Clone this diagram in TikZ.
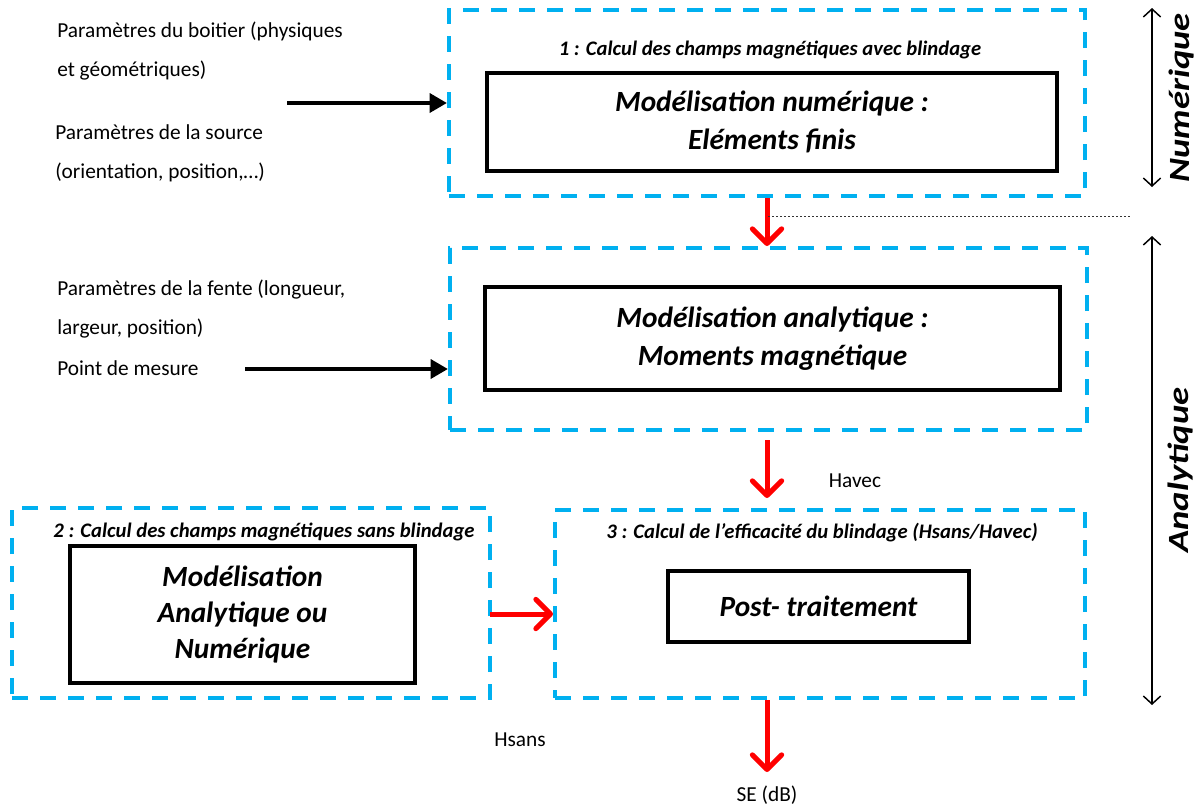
\documentclass[tikz,border=0pt]{standalone}
\usepackage{fontspec}
\setmainfont{Carlito}
\usetikzlibrary{arrows.meta,calc}
\definecolor{dashblue}{HTML}{00B0F0}
\begin{document}
\begin{tikzpicture}[x=0.75pt,y=-0.75pt,
  dbox/.style={draw=dashblue, line width=3pt, dash pattern=on 12pt off 9pt, inner sep=0},
  sbox/.style={draw=black, line width=3pt, inner sep=0, align=center, font=\fontsize{22}{28}\selectfont\bfseries\itshape},
  ttl/.style={font=\fontsize{15.5}{18}\selectfont\bfseries\itshape, inner sep=0},
  lbl/.style={font=\fontsize{16}{29}\selectfont, inner sep=0, align=left, anchor=west},
  plain/.style={font=\fontsize{16}{18}\selectfont, inner sep=0},
  redarr/.style={draw=red, line width=3.75pt, -{Straight Barb[length=11pt,width=22pt,round]}},
  blkarr/.style={draw=black, line width=3.5pt, -{Triangle[length=13pt,width=14pt]}},
  dblarr/.style={draw=black, line width=1.1pt, {Straight Barb[length=6pt,width=13pt]}-{Straight Barb[length=6pt,width=13pt]}},
  side/.style={font=\fontsize{22}{25}\selectfont\bfseries\itshape, rotate=90, inner sep=0},
  dotline/.style={draw=black!80, line width=0.6pt, dash pattern=on 1.8pt off 1.2pt}
]
\useasboundingbox (0,0) rectangle (1202,808);

% dashed outer boxes
\node[dbox, minimum width=477pt, minimum height=139.5pt] (b1) at (767,103) {};
\node[dbox, minimum width=477.75pt, minimum height=136.5pt] (b2) at (768.5,339) {};
\node[dbox, minimum width=358.5pt, minimum height=142.5pt] (b3) at (251,603) {};
\node[dbox, minimum width=397.5pt, minimum height=141pt] (b4) at (820,604) {};

% titles
\node[ttl] (t1) at (770,50) {1 : Calcul des champs magnétiques avec blindage};
\node[ttl] (t2) at (264,532) {2 : Calcul des champs magnétiques sans blindage};
\node[ttl] (t3) at (822,533) {3 : Calcul de l’efficacité du blindage (Hsans/Havec)};

% inner boxes
\node[sbox, minimum width=427.5pt, minimum height=73.5pt] (i1) at (772,122) {Modélisation numérique :\\Eléments finis};
\node[sbox, minimum width=431.25pt, minimum height=77.25pt] (i2) at (772.5,338.5) {Modélisation analytique :\\Moments magnétique};
\node[sbox, minimum width=258.75pt, minimum height=102.75pt, font=\fontsize{22}{27}\selectfont\bfseries\itshape] (i3) at (242.5,614) {Modélisation\\Analytique ou\\Numérique};
\node[sbox, minimum width=225.75pt, minimum height=53.25pt] (i4) at (818.5,606.5) {Post- traitement};

% left texts
\node[lbl] (p1) at (57,51) {Paramètres du boitier (physiques\\et géométriques)};
\node[lbl] (p2) at (55,153) {Paramètres de la source\\(orientation, position,…)};
\node[lbl] (p3) at (57,309) {Paramètres de la fente (longueur,\\largeur, position)};
\node[lbl] (p4) at (57,368) {Point de mesure};

% labels
\node[plain] (havec) at (855,481) {Havec};
\node[plain] (hsans) at (520,740) {Hsans};
\node[plain] (se) at (767,795) {SE (dB)};

% side labels
\node[side] (num) at (1181,98) {\scalebox{1.25}[1]{Numérique}};
\node[side] (ana) at (1180,470) {\scalebox{1.25}[1]{Analytique}};

% coordinates
\coordinate (k1) at (287,103);
\coordinate (k2) at (245,369);
\coordinate (h1) at (767,440);
\coordinate (h2) at (767,498);
\coordinate (r1) at (490,614);
\coordinate (s1) at (767,772);
\coordinate (d1) at (768,216);
\coordinate (d2) at (1130,216);
\coordinate (n1) at (1152,8);
\coordinate (n2) at (1152,187);
\coordinate (a1) at (1152,236);
\coordinate (a2) at (1152,705);

% connectors
\draw[blkarr] (k1) -- (b1.west);
\draw[blkarr] (k2) -- (k2 -| b2.west);
\draw[redarr] (b1.south) -- (b1.south |- b2.north);
\draw[dotline] (d1) -- (d2);
\draw[redarr] (h1) -- (h2);
\draw[redarr] (r1) -- (r1 -| b4.west);
\draw[redarr] (b4.south -| s1) -- (s1);
\draw[dblarr] (n1) -- (n2);
\draw[dblarr] (a1) -- (a2);
\end{tikzpicture}
\end{document}
